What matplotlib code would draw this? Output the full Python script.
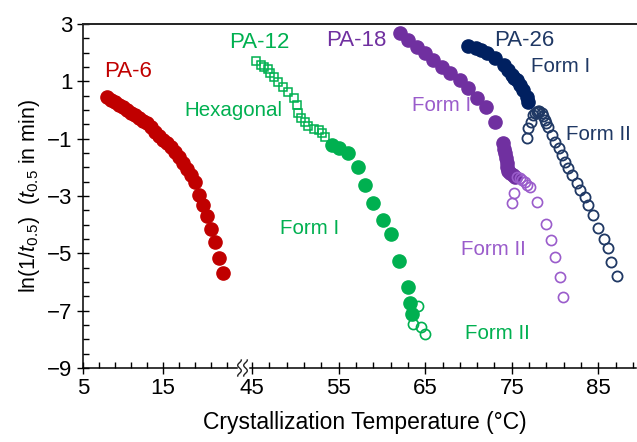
import matplotlib
matplotlib.use('Agg')
import matplotlib.pyplot as plt
from matplotlib.lines import Line2D
import numpy as np

plt.rcParams['font.family'] = ['Liberation Sans', 'DejaVu Sans']
plt.rcParams['mathtext.fontset'] = 'custom'
plt.rcParams['mathtext.rm'] = 'Liberation Sans'
plt.rcParams['mathtext.it'] = 'Liberation Sans:italic'
plt.rcParams['axes.unicode_minus'] = True

# ---------------- data ----------------
pa6_x = [8.0, 8.5, 9.0, 9.5, 10.0, 10.5, 11.0, 11.5, 12.0, 12.5, 13.0, 13.5, 14.0, 14.5,
         15.0, 15.5, 16.0, 16.5, 17.0, 17.5, 18.0, 18.5, 19.0, 19.5, 20.0, 20.5, 21.0,
         21.5, 22.0, 22.5]
pa6_y = [0.45, 0.36, 0.27, 0.18, 0.09, 0.0, -0.09, -0.18, -0.28, -0.37, -0.47, -0.61, -0.76,
         -0.90, -1.03, -1.16, -1.30, -1.46, -1.64, -1.84, -2.05, -2.28, -2.50, -2.96, -3.31,
         -3.70, -4.16, -4.59, -5.15, -5.70]

pa12_hex_x = [45.5, 46.0, 46.4, 46.8, 47.1, 47.5, 48.0, 48.6, 49.2, 49.8, 50.2, 50.35, 50.7,
              51.1, 51.5, 52.1, 52.7, 53.05, 53.4]
pa12_hex_y = [1.72, 1.57, 1.50, 1.42, 1.30, 1.16, 0.99, 0.81, 0.64, 0.41, 0.17, -0.11, -0.29,
              -0.41, -0.56, -0.67, -0.70, -0.79, -0.95]
pa12_f1_x = [54.2, 55.1, 56.1, 57.2, 58.0, 59.0, 60.1, 61.0, 62.0, 63.05, 63.2, 63.5]
pa12_f1_y = [-1.22, -1.34, -1.51, -1.98, -2.62, -3.24, -3.85, -4.32, -5.26, -6.16, -6.74, -7.12]
pa12_f2_x = [64.2, 63.6, 64.5, 65.0]
pa12_f2_y = [-6.84, -7.46, -7.56, -7.81]

pa18_f1_x = [62.1, 63.05, 64.0, 65.0, 65.9, 66.9, 67.9, 69.0, 70.0, 70.95, 72.0, 73.06,
             74.0, 74.1, 74.2, 74.3, 74.4, 74.5, 74.6, 74.8, 75.1, 75.4]
pa18_f1_y = [2.67, 2.44, 2.21, 1.98, 1.74, 1.51, 1.28, 1.05, 0.76, 0.41, 0.09, -0.41,
             -1.16, -1.35, -1.51, -1.68, -1.86, -2.00, -2.12, -2.21, -2.28, -2.33]
pa18_f2_x = [75.6, 75.9, 76.2, 76.5, 76.8, 77.1, 75.2, 75.0, 77.9, 78.95, 79.5, 80.0, 80.6, 80.95]
pa18_f2_y = [-2.33, -2.38, -2.45, -2.52, -2.60, -2.68, -2.91, -3.26, -3.20, -3.98, -4.53,
             -5.14, -5.84, -6.53]

pa26_f1_x = [70.0, 70.9, 71.5, 72.1, 73.06, 74.1, 74.6, 75.0, 75.3, 75.6, 75.9, 76.3, 76.7, 76.9]
pa26_f1_y = [2.23, 2.15, 2.08, 1.98, 1.80, 1.57, 1.40, 1.22, 1.13, 1.05, 0.87, 0.70, 0.46, 0.29]
pa26_f2_x = [76.7, 76.9, 77.2, 77.5, 77.7, 77.9, 78.0, 78.2, 78.45, 78.6, 78.8, 79.0, 79.2,
             79.6, 80.0, 80.4, 80.8, 81.1, 81.5, 82.0, 82.5, 82.9, 83.45, 83.8, 84.4, 85.0,
             85.6, 86.1, 86.5, 87.1]
pa26_f2_y = [-0.99, -0.64, -0.41, -0.17, -0.10, -0.06, -0.03, -0.05, -0.12, -0.20, -0.35,
             -0.45, -0.58, -0.87, -1.10, -1.34, -1.57, -1.80, -2.03, -2.27, -2.56, -2.79,
             -3.02, -3.31, -3.65, -4.13, -4.51, -4.82, -5.30, -5.80]

yticks = [-9, -7, -5, -3, -1, 1, 3]
xticks_left = [5, 15]
xticks_right = [45, 55, 65, 75, 85]

# ---------------- colours ----------------
RED = '#C00000'
GREEN = '#00B050'
PURPLE = '#7030A0'
PURPLE_L = '#9A5CCB'
NAVY = '#002060'
NAVY_O = '#1F3864'

# ---------------- figure ----------------
W, H = 637, 442
fig = plt.figure(figsize=(W / 100, H / 100), dpi=100)


def fx(px):
    return px / W


def fy(py):
    return 1 - py / H


TOP, BOT = 24, 368
ax1 = fig.add_axes([fx(83), fy(BOT), (236.6 - 83) / W, (BOT - TOP) / H])
ax2 = fig.add_axes([fx(250.3), fy(BOT), (635.6 - 250.3) / W, (BOT - TOP) / H])

for ax in (ax1, ax2):
    ax.set_ylim(-9, 3)
    ax.patch.set_alpha(0)
    ax.spines['top'].set_visible(False)
    ax.spines['right'].set_visible(False)
    for s in ax.spines.values():
        s.set_linewidth(1.1)
ax2.spines['left'].set_visible(False)

ax1.set_xlim(5, 24.2)
ax2.set_xlim(44.8, 89.3)

ax1.set_xticks(xticks_left)
ax1.set_xticks(np.arange(7, 24, 2), minor=True)
ax1.set_yticks(yticks)
ax1.set_yticks(np.arange(-9, 3.01, 0.5), minor=True)
ax2.set_xticks(xticks_right)
ax2.set_xticks(np.arange(47, 90, 2), minor=True)
ax2.set_yticks([])

for ax in (ax1, ax2):
    ax.tick_params(which='major', direction='inout', length=9, width=1.0,
                   labelsize=16, pad=3)
    ax.tick_params(which='minor', direction='in', length=4.5, width=1.0)

ax1.set_ylabel(r'ln(1/$t_{0.5}$)  ($t_{0.5}$ in min)', fontsize=15.5, labelpad=4)

# ---------------- marks ----------------
FS = 9.5
OS = 7.3
ax1.plot(pa6_x, pa6_y, 'o', ms=FS, color=RED, mec=RED, clip_on=False)

ax2.plot(pa12_hex_x, pa12_hex_y, 's', ms=6.2, mfc='none', mec=GREEN, mew=1.1, clip_on=False)
ax2.plot(pa12_f1_x, pa12_f1_y, 'o', ms=FS, color=GREEN, clip_on=False)
ax2.plot(pa12_f2_x, pa12_f2_y, 'o', ms=OS, mfc='none', mec=GREEN, mew=1.2, clip_on=False)

ax2.plot(pa18_f1_x, pa18_f1_y, 'o', ms=FS, color=PURPLE, clip_on=False)
ax2.plot(pa18_f2_x, pa18_f2_y, 'o', ms=OS, mfc='none', mec=PURPLE_L, mew=1.2, clip_on=False)

ax2.plot(pa26_f1_x, pa26_f1_y, 'o', ms=FS, color=NAVY, clip_on=False)
ax2.plot(pa26_f2_x, pa26_f2_y, 'o', ms=OS, mfc='none', mec=NAVY_O, mew=1.3, clip_on=False)

# ---------------- labels ----------------
ax1.text(10.6, 1.33, 'PA-6', color=RED, fontsize=16, ha='center', va='center')
ax2.text(45.8, 2.37, 'PA-12', color=GREEN, fontsize=16, ha='center', va='center')
ax2.text(42.9, -0.03, 'Hexagonal', color=GREEN, fontsize=14.8, ha='center', va='center')
ax2.text(51.7, -4.15, 'Form I', color=GREEN, fontsize=14.8, ha='center', va='center')
ax2.text(73.3, -7.78, 'Form II', color=GREEN, fontsize=14.8, ha='center', va='center')
ax2.text(57.1, 2.44, 'PA-18', color=PURPLE, fontsize=16, ha='center', va='center')
ax2.text(66.9, 0.17, 'Form I', color=PURPLE_L, fontsize=14.8, ha='center', va='center')
ax2.text(72.9, -4.85, 'Form II', color=PURPLE_L, fontsize=14.8, ha='center', va='center')
ax2.text(76.4, 2.44, 'PA-26', color=NAVY_O, fontsize=16, ha='center', va='center')
ax2.text(80.6, 1.50, 'Form I', color=NAVY_O, fontsize=14.8, ha='center', va='center')
ax2.text(85.0, -0.87, 'Form II', color=NAVY_O, fontsize=14.8, ha='center', va='center')

fig.text(fx(365), fy(422), 'Crystallization Temperature (°C)', fontsize=16.5,
         ha='center', va='center')

# top frame line (continuous across the break)
fig.add_artist(Line2D([fx(83), fx(637)], [fy(TOP), fy(TOP)], color='#222222', lw=1.4))

# axis break marks
t = np.linspace(-1, 1, 40)
for x0 in (239.5, 245.5):
    xs = [fx(x0 + 1.8 * np.sin(np.pi * v * 1.5)) for v in t]
    ys = [fy(BOT + 8 * v) for v in t]
    fig.add_artist(Line2D(xs, ys, color='#222222', lw=1.0))

fig.savefig('out.png', dpi=100)
